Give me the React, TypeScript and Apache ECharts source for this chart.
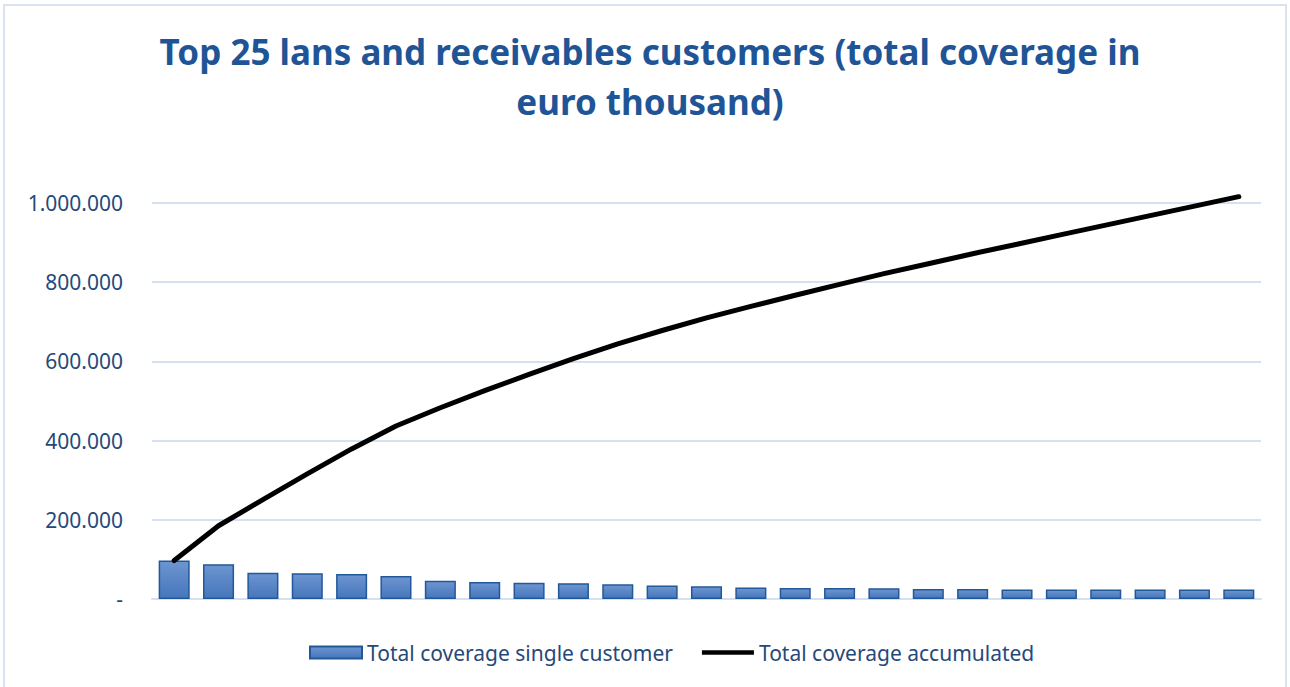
import React, { useEffect, useRef } from "react";
import * as echarts from "echarts";

const categories: string[] = [
  "1", "2", "3", "4", "5", "6", "7", "8", "9", "10",
  "11", "12", "13", "14", "15", "16", "17", "18", "19", "20",
  "21", "22", "23", "24", "25",
];

const singleCustomer: number[] = [
  97000, 88000, 66000, 65000, 63000, 58000, 46000, 43000, 41000, 40000,
  37000, 34000, 32000, 29000, 28000, 27500, 27000, 25000, 25500, 24000,
  24000, 24000, 24000, 24000, 24000,
];

const accumulated: number[] = [
  97000, 185000, 251000, 316000, 379000, 437000, 483000, 526000, 567000, 607000,
  644000, 678000, 710000, 739000, 767000, 794500, 821500, 846500, 872000, 896000,
  920000, 944000, 968000, 992000, 1016000,
];

const yTicks: number[] = [0, 200000, 400000, 600000, 800000, 1000000];

const TITLE = "Top 25 lans and receivables customers (total coverage in\neuro thousand)";
const SERIES_BAR = "Total coverage single customer";
const SERIES_LINE = "Total coverage accumulated";

const fmt = (v: number) => {
  if (v === 0) return "-";
  return String(Math.round(v)).replace(/\B(?=(\d{3})+(?!\d))/g, ".");
};

export default function App() {
  const ref = useRef<HTMLDivElement>(null);
  useEffect(() => {
    if (!ref.current) return;
    const chart = echarts.init(ref.current, null, { renderer: "svg" });
    const textColor = "#26497a";
    const gridColor = "#d5e0f1";
    chart.setOption({
      animation: false,
      backgroundColor: "#ffffff",
      textStyle: { fontFamily: "Noto Sans" },
      graphic: [
        {
          type: "rect",
          shape: { x: 4, y: 5, width: 1282, height: 700 },
          style: { fill: "none", stroke: "#d9e2f0", lineWidth: 2 },
          silent: true,
        },
      ],
      title: {
        text: TITLE,
        left: 645,
        top: 21,
        textAlign: "center",
        textStyle: {
          fontFamily: "Noto Sans",
          fontWeight: "bold",
          fontSize: 35,
          lineHeight: 50,
          color: "#1f5596",
          align: "center",
        },
      },
      legend: {
        left: 304,
        top: 637,
        itemWidth: 52,
        itemHeight: 12,
        itemGap: 29,
        textStyle: { color: textColor, fontSize: 21, fontFamily: "Noto Sans" },
        data: [
          { name: SERIES_BAR, icon: "rect" },
          { name: SERIES_LINE, icon: "path://M0,0 L52,0 L52,4.5 L0,4.5 Z", itemStyle: { color: "#000000" } },
        ],
      },
      grid: { left: 152, right: 29, top: 203, bottom: 88, containLabel: false },
      xAxis: {
        type: "category",
        data: categories,
        axisLine: { show: true, lineStyle: { color: gridColor, width: 2 } },
        axisTick: { show: false },
        axisLabel: { show: false },
      },
      yAxis: {
        type: "value",
        min: yTicks[0],
        max: yTicks[yTicks.length - 1],
        interval: yTicks[1] - yTicks[0],
        axisLine: { show: false },
        axisTick: { show: false },
        splitLine: { lineStyle: { color: gridColor, width: 2 } },
        axisLabel: {
          color: textColor,
          fontSize: 21,
          fontFamily: "Noto Sans",
          margin: 29,
          formatter: (v: number) => fmt(v),
        },
      },
      series: [
        {
          name: SERIES_BAR,
          type: "bar",
          data: singleCustomer,
          barCategoryGap: "30%",
          itemStyle: {
            color: new echarts.graphic.LinearGradient(0, 0, 0, 1, [
              { offset: 0, color: "#6d95d0" },
              { offset: 1, color: "#4576bc" },
            ]),
            borderColor: "#22589a",
            borderWidth: 1.5,
          },
        },
        {
          name: SERIES_LINE,
          type: "line",
          data: accumulated,
          symbol: "none",
          showSymbol: false,
          clip: false,
          lineStyle: { color: "#000000", width: 5, cap: "round", join: "round" },
          itemStyle: { color: "#000000" },
        },
      ],
    });
    return () => chart.dispose();
  }, []);
  return (
    <div
      ref={ref}
      style={{ position: "fixed", left: 0, top: 0, width: 1290, height: 687 }}
    />
  );
}
